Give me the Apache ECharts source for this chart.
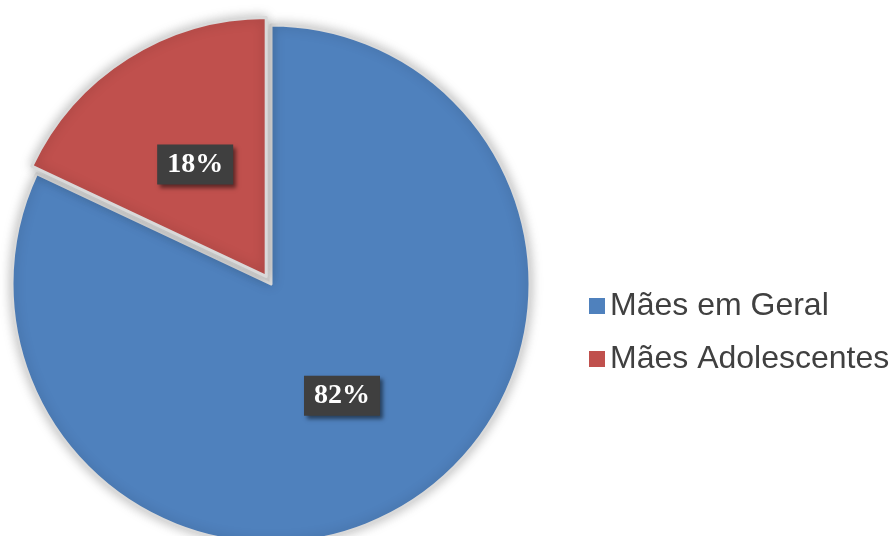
<!DOCTYPE html>
<html>
<head>
<meta charset="utf-8">
<script src="https://cdn.jsdelivr.net/npm/echarts@6/dist/echarts.min.js"></script>
<style>
  html, body { margin: 0; padding: 0; background: #fff; }
  #chart { width: 890px; height: 536px; }
</style>
</head>
<body>
<div id="chart"></div>
<script>
    // categories and values (percent)
    var categories = ['Mães em Geral', 'Mães Adolescentes'];
    var values = [82, 18];
    var colors = ['#4F81BD', '#C0504D'];
    var pulledOut = [false, true];   // the small slice is exploded

    var chart = echarts.init(document.getElementById('chart'));

    var pieData = [];
    for (var i = 0; i < categories.length; i++) {
        pieData.push({
            name: categories[i],
            value: values[i],
            selected: pulledOut[i],
            itemStyle: { color: colors[i] }
        });
    }

    var option = {
        animation: false,
        legend: {
            orient: 'vertical',
            left: 584,
            top: 285,
            icon: 'rect',
            itemWidth: 16,
            itemHeight: 16,
            itemGap: 21,
            selectedMode: false,
            itemStyle: { borderWidth: 0, shadowBlur: 0 },
            textStyle: {
                fontFamily: 'Liberation Sans, Arial, sans-serif',
                fontSize: 32,
                color: '#404040'
            },
            data: categories
        },
        series: [
            {
                type: 'pie',
                center: [271, 284],
                radius: 259,
                startAngle: 90,
                clockwise: true,
                selectedMode: 'single',
                selectedOffset: 9,
                emphasis: { disabled: true },
                select: { itemStyle: { borderColor: '#d9d9d9', borderWidth: 3 } },
                itemStyle: {
                    borderColor: '#d9d9d9',
                    borderWidth: 3,
                    shadowBlur: 12,
                    shadowColor: 'rgba(0,0,0,0.25)'
                },
                label: {
                    show: true,
                    position: 'inside',
                    formatter: '{d}%',
                    fontFamily: 'Liberation Serif, Cambria, serif',
                    fontWeight: 'bold',
                    fontSize: 28,
                    color: '#ffffff',
                    backgroundColor: '#3f3f3f',
                    padding: [7, 10, 5, 10],
                    shadowColor: 'rgba(0,0,0,0.5)',
                    shadowBlur: 4,
                    shadowOffsetX: 3,
                    shadowOffsetY: 3
                },
                labelLine: { show: false },
                data: pieData
            }
        ]
    };
    chart.setOption(option);
</script>
</body>
</html>
